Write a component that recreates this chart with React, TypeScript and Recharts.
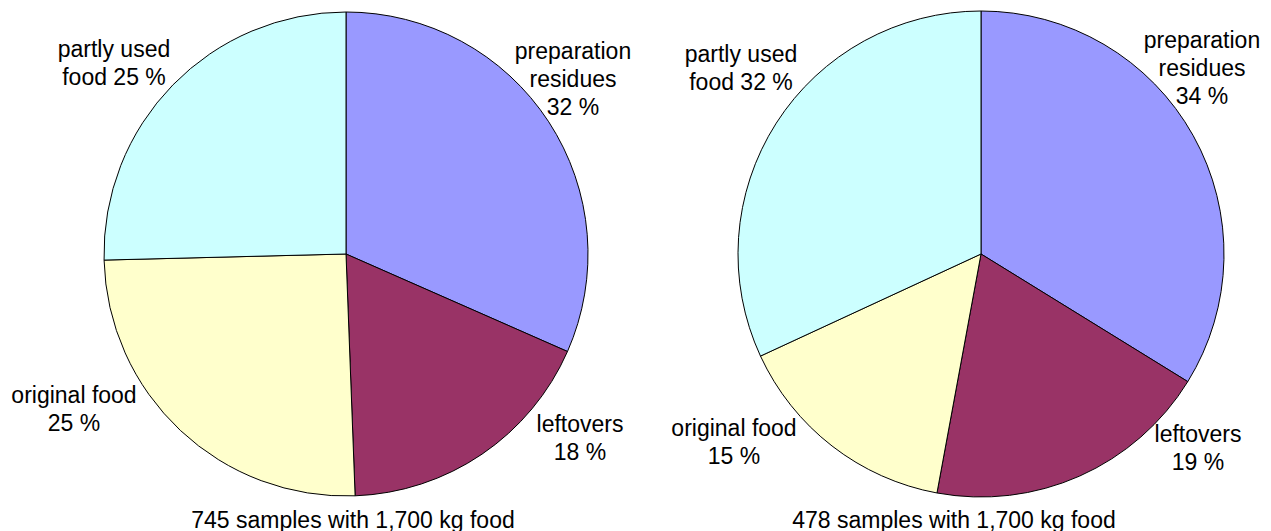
import { PieChart, Pie, Cell } from 'recharts';

const categories = ['preparation residues', 'leftovers', 'original food', 'partly used food'];
// label lines per category, {v} replaced by the rounded percentage
const labelLines = [
  ['preparation', 'residues', '{v} %'],
  ['leftovers', '{v} %'],
  ['original food', '{v} %'],
  ['partly used', 'food {v} %'],
];
const shares745 = [31.6, 17.8, 25.2, 25.4];
const shares478 = [33.8, 19.1, 15.2, 31.9];
const captions = ['745 samples with 1,700 kg food', '478 samples with 1,700 kg food'];

const colors = ['#9999FF', '#993366', '#FFFFCC', '#CCFFFF'];

// label placement relative to pie centre (x of text centre, y of first baseline)
const labelOffsets745 = [
  [227, -195],
  [234, 178],
  [-272, 149],
  [-232, -197],
];
const labelOffsets478 = [
  [221, -206],
  [217, 188],
  [-247, 182],
  [-240, -192],
];

const FONT = '"Liberation Sans", Arial, sans-serif';
const LINE = 28;

const toRows = (vals: number[]) => categories.map((name, i) => ({ name, value: vals[i] }));

const makeLabel = (offsets: number[][]) => (props: any) => {
  const { cx, cy, index, value } = props;
  const [dx, dy] = offsets[index];
  const lines = labelLines[index].map((l) => l.replace('{v}', String(Math.round(value))));
  return (
    <text
      x={cx + dx}
      y={cy + dy}
      textAnchor="middle"
      fontFamily={FONT}
      fontSize={23}
      fill="#000"
    >
      {lines.map((l, k) => (
        <tspan key={k} x={cx + dx} dy={k === 0 ? 0 : LINE}>
          {l}
        </tspan>
      ))}
    </text>
  );
};

export default function App() {
  return (
    <div style={{ position: 'absolute', left: 0, top: 0, background: '#fff' }}>
      <PieChart width={1271} height={531} margin={{ top: 0, right: 0, bottom: 0, left: 0 }}>
        <Pie
          data={toRows(shares745)}
          dataKey="value"
          nameKey="name"
          cx={346}
          cy={254}
          outerRadius={242}
          startAngle={90}
          endAngle={-270}
          stroke="#000"
          strokeWidth={1}
          label={makeLabel(labelOffsets745)}
          labelLine={false}
          isAnimationActive={false}
        >
          {colors.map((c, i) => (
            <Cell key={i} fill={c} />
          ))}
        </Pie>
        <Pie
          data={toRows(shares478)}
          dataKey="value"
          nameKey="name"
          cx={981}
          cy={254}
          outerRadius={243}
          startAngle={90}
          endAngle={-270}
          stroke="#000"
          strokeWidth={1}
          label={makeLabel(labelOffsets478)}
          labelLine={false}
          isAnimationActive={false}
        >
          {colors.map((c, i) => (
            <Cell key={i} fill={c} />
          ))}
        </Pie>
        <text x={353} y={528} textAnchor="middle" fontFamily={FONT} fontSize={23} fill="#000">
          {captions[0]}
        </text>
        <text x={954} y={528} textAnchor="middle" fontFamily={FONT} fontSize={23} fill="#000">
          {captions[1]}
        </text>
      </PieChart>
    </div>
  );
}
